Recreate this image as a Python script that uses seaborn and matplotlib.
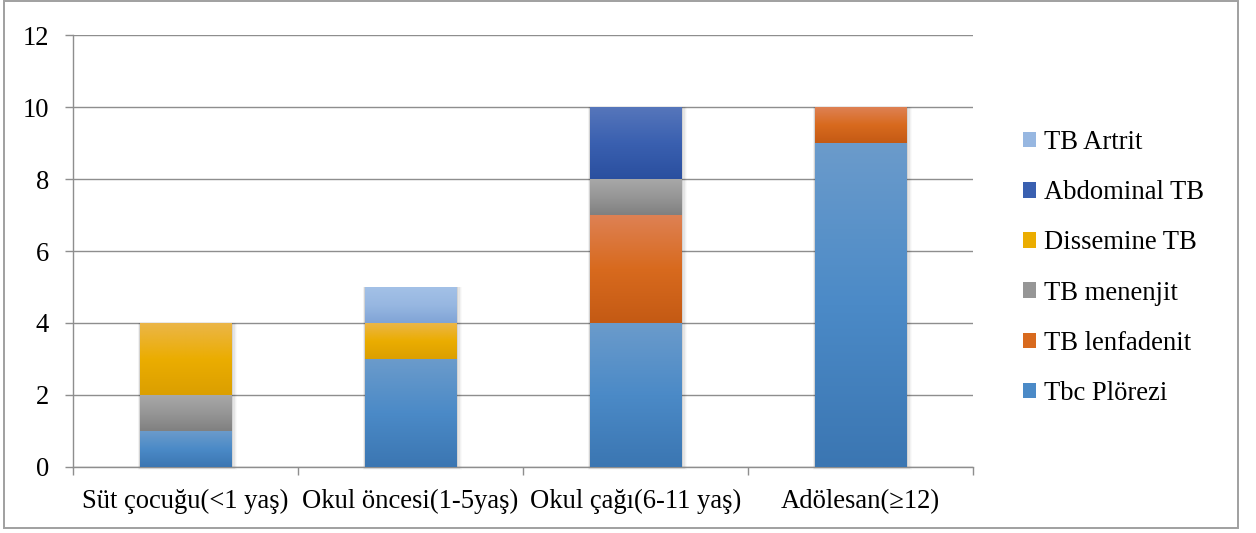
import numpy as np
import pandas as pd
import matplotlib
matplotlib.use("Agg")
import matplotlib.pyplot as plt
import seaborn as sns
from matplotlib.colors import LinearSegmentedColormap
from matplotlib.patches import Patch, Rectangle

# Age groups and case counts per tuberculosis form
categories = ["Süt çocuğu(<1 yaş)", "Okul öncesi(1-5yaş)", "Okul çağı(6-11 yaş)", "Adölesan(≥12)"]
series_names = ["Tbc Plörezi", "TB lenfadenit", "TB menenjit", "Dissemine TB", "Abdominal TB", "TB Artrit"]
tbc_plorezi = [1, 3, 4, 9]
tb_lenfadenit = [0, 0, 3, 1]
tb_menenjit = [1, 0, 1, 0]
dissemine_tb = [2, 1, 0, 0]
abdominal_tb = [0, 0, 2, 0]
tb_artrit = [0, 1, 0, 0]
y_ticks = [0, 2, 4, 6, 8, 10, 12]

series_values = [tbc_plorezi, tb_lenfadenit, tb_menenjit, dissemine_tb, abdominal_tb, tb_artrit]

# Vertical gradient stops (top, middle, bottom) for each series
gradients = [
    ("#6B9BCB", "#4B8AC7", "#3B76B2"),
    ("#DE8154", "#D86A1E", "#C45A14"),
    ("#A8A8A8", "#969696", "#808080"),
    ("#EBB648", "#EBAD00", "#DB9F00"),
    ("#5676BB", "#3A60B0", "#2A4F9F"),
    ("#A3C1E7", "#97B7E1", "#80A4D6"),
]
legend_colors = [g[1] for g in gradients]

sns.set_theme(style="white")
plt.rcParams["font.family"] = ["Liberation Serif", "DejaVu Serif"]
plt.rcParams["text.color"] = "black"

fig = plt.figure(figsize=(12.56, 5.33), dpi=100)
ax = fig.add_axes([73 / 1256, 66 / 533, 900 / 1256, 432 / 533])

grid_color = "#8E8E8E"
bar_width = 0.405
font_size = 19.2

bottoms = np.zeros(len(categories))
for name, vals, grad in zip(series_names, series_values, gradients):
    df = pd.DataFrame({"group": categories, "count": vals})
    n_before = len(ax.patches)
    sns.barplot(data=df, x="group", y="count", order=categories, width=bar_width,
                bottom=bottoms.copy(), color=grad[1], ax=ax, zorder=3,
                linewidth=0, saturation=1)
    new_patches = ax.patches[n_before:]
    cmap = LinearSegmentedColormap.from_list(name, [grad[2], grad[1], grad[0]])
    grad_img = np.linspace(0, 1, 256).reshape(-1, 1)
    for p in new_patches:
        h = p.get_height()
        if h <= 0:
            p.set_visible(False)
            continue
        x0, y0, w = p.get_x(), p.get_y(), p.get_width()
        im = ax.imshow(grad_img, cmap=cmap, origin="lower", aspect="auto",
                       extent=(x0, x0 + w, y0, y0 + h), zorder=3.5, interpolation="bilinear")
        im.set_clip_path(p)
    bottoms += np.array(vals, dtype=float)

# Soft drop shadow around each stacked column
for i, total in enumerate(bottoms):
    for k, a in zip(range(1, 6), [0.10, 0.07, 0.05, 0.03, 0.02]):
        dx = 0.0045 * k
        dy = 0.028 * k
        ax.add_patch(Rectangle((i - bar_width / 2 - dx * 0.4, -dy * 0.6),
                               bar_width + dx * 1.6, total + dy * 0.6,
                               facecolor="black", alpha=a, edgecolor="none",
                               zorder=2.5, clip_on=False))

ax.set_xlim(-0.5, len(categories) - 0.5)
ax.set_ylim(0, 12)
ax.set_yticks(y_ticks)
ax.set_yticklabels([str(t) for t in y_ticks])
ax.set_xticks(range(len(categories)))
ax.set_xticklabels(categories)
ax.set_xticks(np.arange(-0.5, len(categories)), minor=True)
ax.set_xlabel("")
ax.set_ylabel("")

ax.yaxis.grid(True, color=grid_color, linewidth=1.0, zorder=0)
ax.xaxis.grid(False)
ax.set_axisbelow(True)
for side in ["top", "right"]:
    ax.spines[side].set_visible(False)
for side in ["left", "bottom"]:
    ax.spines[side].set_color(grid_color)
    ax.spines[side].set_linewidth(1.0)

ax.tick_params(axis="y", which="major", left=True, length=5.8, width=1.0, color=grid_color,
               pad=11.5, labelsize=font_size, labelcolor="black")
ax.tick_params(axis="x", which="major", bottom=False, length=0, pad=16,
               labelsize=font_size, labelcolor="black")
ax.tick_params(axis="x", which="minor", bottom=True, length=5.8, width=1.0, color=grid_color)

# Legend listed from the top series down
handles = [Patch(facecolor=c, edgecolor="none") for c in legend_colors]
leg = fig.legend(handles[::-1], series_names[::-1], loc="center left",
                 bbox_to_anchor=(1012 / 1256, (533 - 268) / 533), frameon=False,
                 fontsize=font_size, handlelength=0.5, handleheight=0.5, handletextpad=0.3,
                 labelspacing=0.94, borderaxespad=0, labelcolor="black")

# Outer chart border
fig.add_artist(Rectangle((4 / 1256, 5 / 533), 1234 / 1256, 527 / 533,
                         transform=fig.transFigure, facecolor="none",
                         edgecolor="#A0A0A0", linewidth=1.4))

fig.savefig("out.png", dpi=100)
